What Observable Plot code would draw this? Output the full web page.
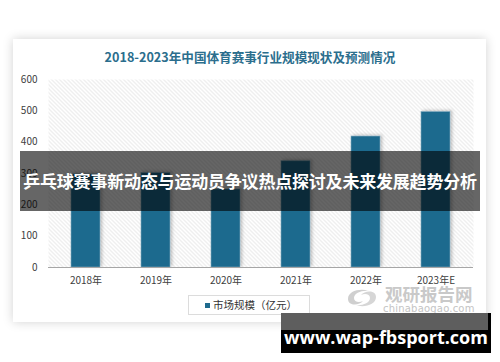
<!DOCTYPE html>
<html>
<head>
<meta charset="utf-8">
<script src="https://cdn.jsdelivr.net/npm/d3@7"></script>
<script src="https://cdn.jsdelivr.net/npm/@observablehq/plot@0.6"></script>
<style>
  html, body { margin: 0; padding: 0; background: #fff; }
  body { width: 500px; height: 362px; position: relative; overflow: hidden; font-family: "Noto Sans CJK SC", "Noto Sans", sans-serif; }
  #card { position: absolute; left: 13px; top: 39px; width: 473px; height: 283px; background: #fff; box-shadow: 0 0 10px rgba(0,0,0,0.18); }
  #title { position: absolute; left: 0; top: 48px; width: 500px; text-align: center; font-size: 12.6px; font-weight: 700; color: #2b6e8d; line-height: 18px; }
  #chart { position: absolute; left: 0; top: 0; }
  #legend { position: absolute; left: 188px; top: 295px; width: 122px; height: 20px; border: 1px solid #dcdcdc; box-sizing: border-box; font-size: 10.5px; color: #333; line-height: 18px; }
  #legend .sw { position: absolute; left: 16px; top: 7px; width: 5px; height: 5px; background: #1f6b8e; }
  #legend .lt { position: absolute; left: 24px; top: 0; white-space: nowrap; }
  #wm1 { position: absolute; left: 385px; top: 284px; font-size: 17.5px; font-weight: 700; color: #c9c9c9; line-height: 20px; white-space: nowrap; }
  #wm2 { position: absolute; left: 383px; top: 303px; font-size: 10px; color: #c4c4c4; font-family: "DejaVu Sans", sans-serif; line-height: 12px; letter-spacing: 0.2px; white-space: nowrap; }
  #logo { position: absolute; left: 345px; top: 287px; width: 34px; height: 22px; }
  #banner { position: absolute; left: 20px; top: 151px; width: 460px; height: 60px; background: rgba(0,0,0,0.6); color: #fff; font-size: 17px; font-weight: 700; text-align: center; line-height: 60px; white-space: nowrap; letter-spacing: -0.2px; }
  #site { position: absolute; left: 281px; top: 313px; width: 210px; height: 40px; background: #000; }
  #site .top { position: absolute; left: 0; top: 0; width: 207px; height: 17px; background: #5e5e5e; }
  #site .txt { position: absolute; left: 0; top: 0; width: 210px; height: 40px; line-height: 48px; text-align: center; color: #fff; font-size: 18px; font-weight: 700; font-family: "Open Sans", "DejaVu Sans", sans-serif; }
</style>
</head>
<body>
<div id="card"></div>
<div id="title">2018-2023年中国体育赛事行业规模现状及预测情况</div>
<div id="chart"></div>
<div id="legend"><span class="sw"></span><span class="lt">市场规模（亿元）</span></div>
<svg id="logo" viewBox="0 0 34 22"><path d="M3,12 C3,4 15,1 24,4 C17,3 9,6 9,11 C9,15 14,16 18,14 C14,19 3,19 3,12 Z" fill="#cfcfcf"/><path d="M31,10 C31,18 19,21 10,18 C17,19 25,16 25,11 C25,7 20,6 16,8 C20,3 31,3 31,10 Z" fill="#d6d6d6"/></svg>
<div id="wm1">观研报告网</div>
<div id="wm2">chinabaogao.com</div>
<div id="banner">乒乓球赛事新动态与运动员争议热点探讨及未来发展趋势分析</div>
<div id="site"><div class="top"></div><div class="txt">www.wap-fbsport.com</div></div>
<script>
const years = ["2018年", "2019年", "2020年", "2021年", "2022年", "2023年E"];
const values = [297, 301, 249, 339, 418, 496];
const yTicks = [0, 100, 200, 300, 400, 500, 600];

const data = years.map((year, i) => ({year, value: values[i]}));

function hatchDefs() {
  const defs = d3.create("svg:defs");
  const p = defs.append("pattern").attr("id", "hatch").attr("patternUnits", "userSpaceOnUse").attr("width", 4).attr("height", 4);
  p.append("rect").attr("width", 4).attr("height", 4).attr("fill", "#ffffff");
  p.append("path").attr("d", "M-1,-1 L5,5 M3,-1 L5,1 M-1,3 L1,5").attr("stroke", "#dedede").attr("stroke-width", 1);
  const f = defs.append("filter").attr("id", "shadow").attr("x", "-30%").attr("y", "-10%").attr("width", "160%").attr("height", "120%");
  f.append("feDropShadow").attr("dx", 2).attr("dy", -1).attr("stdDeviation", 1.6).attr("flood-color", "#000").attr("flood-opacity", 0.22);
  return defs.node();
}

const chart = Plot.plot({
  width: 500,
  height: 300,
  marginTop: 79,
  marginBottom: 33,
  marginLeft: 48,
  marginRight: 27,
  style: {fontFamily: "'Noto Sans CJK SC', 'Noto Sans', sans-serif", fontSize: "10px", color: "#404040", background: "transparent", overflow: "visible"},
  x: {domain: years, paddingInner: 0.58, paddingOuter: 0.29, label: null, tickSize: 0, tickPadding: 9},
  y: {domain: [0, 600], ticks: yTicks, label: null, tickSize: 0, tickPadding: 11},
  marks: [
    hatchDefs,
    Plot.frame({fill: "url(#hatch)", stroke: null}),
    Plot.barY(data, {x: "year", y: "value", fill: "#1f6b8e", stroke: "#7fa9be", strokeWidth: 0.6}),
    Plot.ruleY([0], {stroke: "#a6a6a6", strokeWidth: 1})
  ]
});
d3.select(chart).selectAll("g[aria-label='bar'] rect").attr("filter", "url(#shadow)");
document.getElementById("chart").appendChild(chart);
</script>
</body>
</html>
